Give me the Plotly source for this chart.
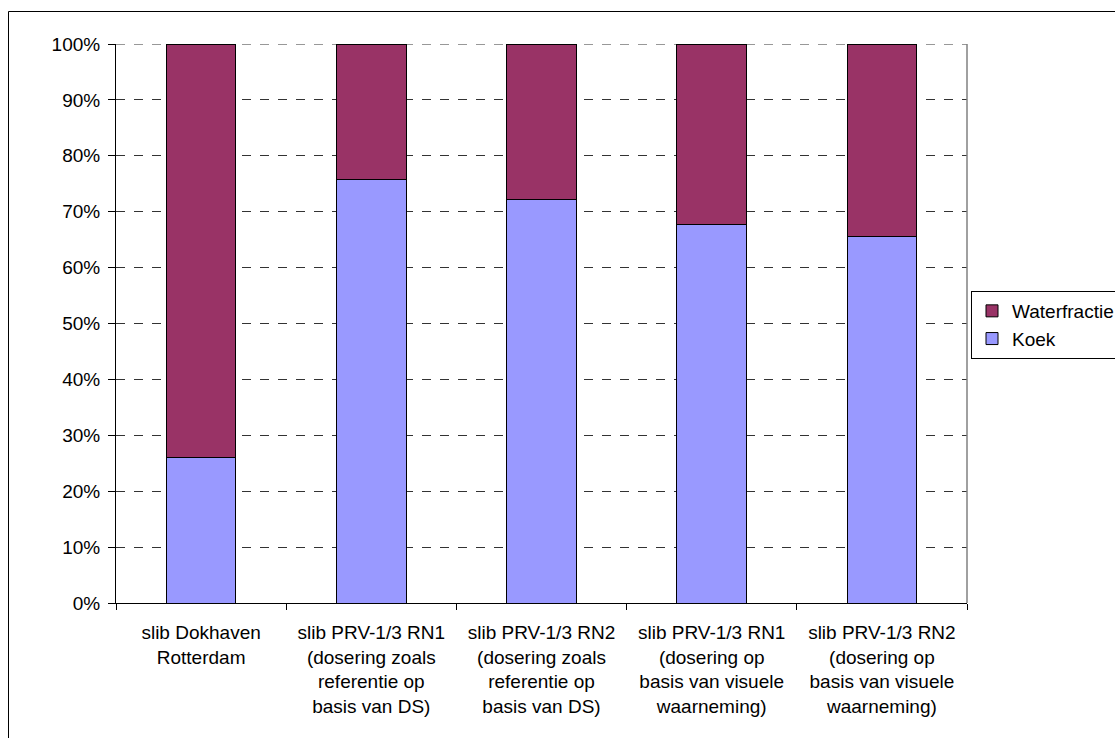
import plotly.graph_objects as go

# Sample categories (multi-line axis labels)
categories = [
    "slib Dokhaven<br>Rotterdam",
    "slib PRV-1/3 RN1<br>(dosering zoals<br>referentie op<br>basis van DS)",
    "slib PRV-1/3 RN2<br>(dosering zoals<br>referentie op<br>basis van DS)",
    "slib PRV-1/3 RN1<br>(dosering op<br>basis van visuele<br>waarneming)",
    "slib PRV-1/3 RN2<br>(dosering op<br>basis van visuele<br>waarneming)",
]

# Fractions in percent
koek = [26.0, 75.8, 72.2, 67.8, 65.6]
waterfractie = [74.0, 24.2, 27.8, 32.2, 34.4]

y_ticks = [0, 10, 20, 30, 40, 50, 60, 70, 80, 90, 100]
y_tick_text = [f"{v}%" for v in y_ticks]

FONT = "Arial, 'Liberation Sans', sans-serif"
FS = 19

W, H = 1115, 738
ML, MR, MT, MB = 116, 148, 44, 135
PW, PH = W - ML - MR, H - MT - MB


def px_x(x):
    return (x - ML) / PW


def px_y(y):
    return (H - MB - y) / PH


fig = go.Figure()
fig.add_trace(go.Bar(
    x=categories, y=koek, name="Koek",
    marker=dict(color="#9999FF", line=dict(color="#000000", width=1)),
    legendrank=2,
))
fig.add_trace(go.Bar(
    x=categories, y=waterfractie, name="Waterfractie",
    marker=dict(color="#993366", line=dict(color="#000000", width=1)),
    legendrank=1,
))

fig.update_layout(
    width=W, height=H,
    barmode="stack", bargap=0.59,
    plot_bgcolor="white", paper_bgcolor="white",
    margin=dict(l=ML, r=MR, t=MT, b=MB, autoexpand=False),
    font=dict(family=FONT, size=FS, color="#000000"),
    showlegend=True,
    legend=dict(
        x=px_x(971), y=px_y(291), xanchor="left", yanchor="top",
        traceorder="normal",
        bordercolor="#000000", borderwidth=1, bgcolor="white",
        font=dict(family=FONT, size=FS),
        itemwidth=30,
    ),
    xaxis=dict(
        type="category", tickson="boundaries",
        ticks="outside", ticklen=6, tickcolor="#000000",
        showline=True, linecolor="#000000", linewidth=1,
        showgrid=False, tickangle=0,
        ticklabelstandoff=12,
        tickfont=dict(family=FONT, size=FS),
    ),
    yaxis=dict(
        range=[0, 100], tickvals=y_ticks, ticktext=y_tick_text,
        ticks="outside", ticklen=7, tickcolor="#000000",
        showline=True, linecolor="#000000", linewidth=1,
        showgrid=True, gridcolor="#333333", griddash="dash", gridwidth=1,
        zeroline=False,
        ticklabelstandoff=4,
        tickfont=dict(family=FONT, size=FS),
    ),
    shapes=[
        # dashed gridline along the 100% edge
        dict(type="line", xref="paper", yref="y", x0=0, x1=1, y0=100, y1=100,
             line=dict(color="#333333", width=1, dash="dash"), layer="below"),
        # right edge of the plot area
        dict(type="line", xref="paper", yref="paper", x0=1, x1=1, y0=0, y1=1,
             line=dict(color="#808080", width=1.5)),
        # chart frame
        dict(type="rect", xref="paper", yref="paper",
             x0=px_x(8.5), x1=px_x(1130), y0=px_y(11.5), y1=px_y(760),
             line=dict(color="#000000", width=1), layer="below"),
    ],
)

fig.write_html("out.html")
